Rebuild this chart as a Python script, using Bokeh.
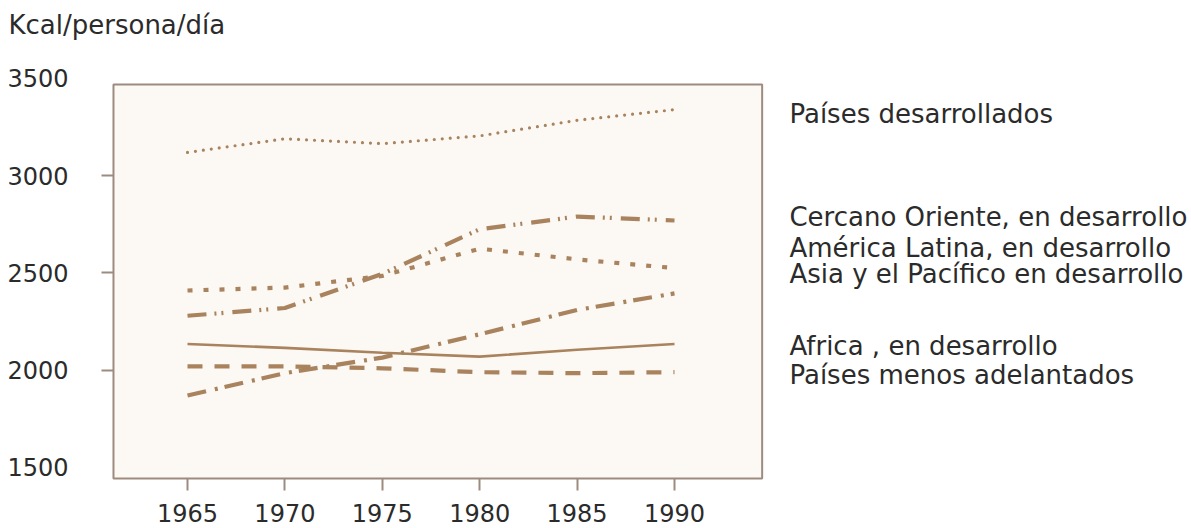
from bokeh.plotting import figure
from bokeh.models import FixedTicker, Range1d, ColumnDataSource
from bokeh.core.properties import value
from bokeh.embed import file_html
from bokeh.resources import INLINE

# ---------------- data ----------------
years = [1965, 1970, 1975, 1980, 1985, 1990]
desarrollados = [3120, 3190, 3165, 3205, 3285, 3340]
cercano_oriente = [2280, 2320, 2495, 2725, 2790, 2770]
america_latina = [2410, 2425, 2485, 2625, 2570, 2525]
asia_pacifico = [1870, 1985, 2065, 2185, 2310, 2395]
africa = [2135, 2115, 2090, 2070, 2105, 2135]
menos_adelantados = [2020, 2020, 2010, 1990, 1985, 1990]

series_names = [
    "Países desarrollados",
    "Cercano Oriente, en desarrollo",
    "América Latina, en desarrollo",
    "Asia y el Pacífico en desarrollo",
    "Africa , en desarrollo",
    "Países menos adelantados",
]
x_ticks = [1965, 1970, 1975, 1980, 1985, 1990]
y_ticks = [1500, 2000, 2500, 3000, 3500]
y_title = "Kcal/persona/día"

# ---------------- layout / style ----------------
FONT = "DejaVu Sans"
TXT = "#2b2b2b"
LINE = "#a9835e"
FRAME_LINE = "#9e8b80"
FRAME_FILL = "#fcf9f4"

# right-hand text column anchors (data units)
label_x = 1995.9
label_y = [3320, 2790, 2627, 2494, 2127, 1973]
# title anchor (data units, above the box, left of it)
title_x, title_y = 1955.81, 3772.5

# framed box extents in data units
box_left, box_right = 1961.2, 1994.5
box_bottom, box_top = 1443.4, 3469.2

p = figure(
    width=1191, height=528,
    x_range=Range1d(1955.40, 2016.54),
    y_range=Range1d(1186.3, 3901.0),
    output_backend="svg", toolbar_location=None,
    min_border=0,
)
p.outline_line_color = None
p.background_fill_color = "white"
p.border_fill_color = "white"
p.grid.visible = False

# framed box
p.quad(left=[box_left], right=[box_right], bottom=[box_bottom], top=[box_top],
       fill_color=FRAME_FILL, line_color=FRAME_LINE, line_width=2)

# series
p.line(years, desarrollados, line_color=LINE, line_width=3.2,
       line_dash="0 8", line_cap="round")
p.line(years, cercano_oriente, line_color=LINE, line_width=4.2,
       line_dash="19 8 2 5 2 9", line_cap="butt")
p.line(years, america_latina, line_color=LINE, line_width=4.2,
       line_dash="5 11", line_cap="butt")
p.line(years, asia_pacifico, line_color=LINE, line_width=4.2,
       line_dash="19 9 3 7", line_cap="butt")
p.line(years, africa, line_color=LINE, line_width=2.6)
p.line(years, menos_adelantados, line_color=LINE, line_width=4.2,
       line_dash="15 12", line_cap="butt")

# right-hand labels
src = ColumnDataSource(dict(x=[label_x] * len(series_names), y=label_y, t=series_names))
p.text(x="x", y="y", text="t", source=src, text_font=value(FONT),
       text_font_size="26px", text_color=TXT, text_baseline="alphabetic",
       text_align="left")

# unit title
p.text(x=[title_x], y=[title_y], text=[y_title], text_font=value(FONT),
       text_font_size="26px", text_color=TXT, text_baseline="middle",
       text_align="left")

# axes (pinned to the box edges)
xa = p.xaxis[0]
xa.fixed_location = box_bottom
xa.ticker = FixedTicker(ticks=x_ticks)
xa.axis_line_color = None
xa.major_tick_out = 12
xa.major_tick_in = 0
xa.major_tick_line_color = FRAME_LINE
xa.major_tick_line_width = 2
xa.minor_tick_line_color = None
xa.major_label_standoff = 14
xa.major_label_text_font = FONT
xa.major_label_text_font_size = "24px"
xa.major_label_text_color = TXT

ya = p.yaxis[0]
ya.fixed_location = box_left
ya.ticker = FixedTicker(ticks=y_ticks, minor_ticks=[2000, 2500, 3000])
ya.axis_line_color = None
ya.major_tick_out = 0
ya.major_tick_in = 0
ya.major_tick_line_color = None
ya.minor_tick_out = 12
ya.minor_tick_in = 0
ya.minor_tick_line_color = FRAME_LINE
ya.minor_tick_line_width = 2
ya.major_label_standoff = 33
ya.major_label_text_font = FONT
ya.major_label_text_font_size = "24px"
ya.major_label_text_color = TXT

open("out.html", "w").write(file_html(p, INLINE))
